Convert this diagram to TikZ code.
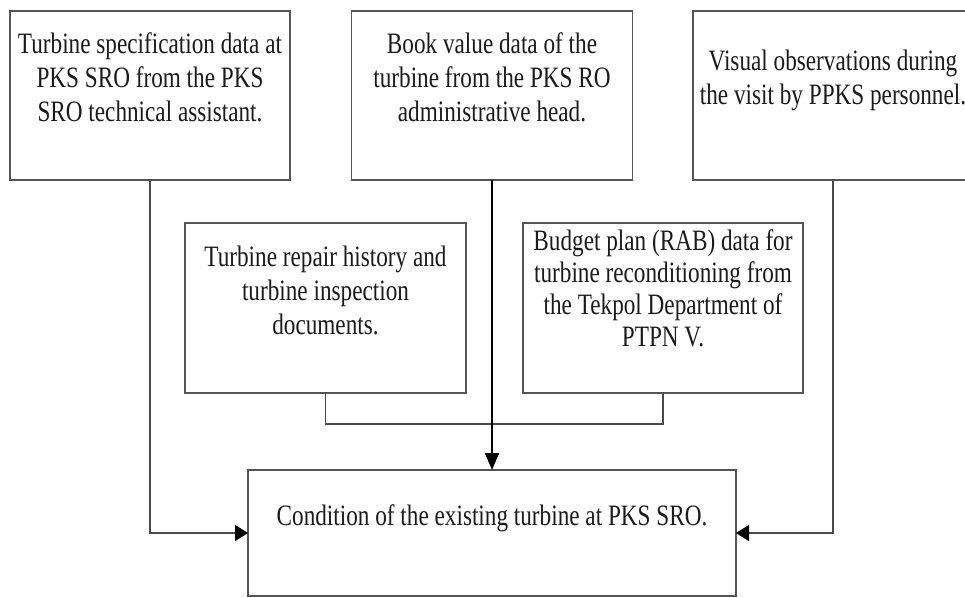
\documentclass[tikz,border=0pt]{standalone}
\usepackage{fontspec}
\setmainfont{Liberation Serif}[FakeStretch=0.784]
\usetikzlibrary{arrows.meta}

\definecolor{edge}{HTML}{555555}
\definecolor{wire}{HTML}{4A4A4A}
\definecolor{ink}{HTML}{1A1A1A}

% centred lines of text whose reference point is the first baseline
\newcommand\stacklines[1]{\parbox[t]{330pt}{\centering #1}}

\begin{document}
\begin{tikzpicture}[x=1pt,y=-1pt,
  box/.style={draw=edge, line width=1.6pt, rectangle, inner sep=0pt, outer sep=0pt},
  txt/.style={anchor=base, inner sep=0pt, text=ink, font=\fontsize{29.6}{34}\selectfont},
  tighttxt/.style={txt, font=\fontsize{29.6}{32.2}\selectfont},
  wireline/.style={draw=wire, line width=1.6pt},
  feed/.style={wireline, -{Triangle[length=13pt,width=16pt,color=black]}},
  mainfeed/.style={draw=black, line width=2pt, -{Triangle[length=17pt,width=14pt]}}
]
\useasboundingbox (0,0) rectangle (965,597);
\clip (0,0) rectangle (965,597);

% source boxes, top row
\node[box, minimum width=280pt, minimum height=169pt] (spec) at (150,95.5) {};
\node[box, minimum width=281pt, minimum height=169pt] (book) at (492,95.5) {};
\node[box, minimum width=280pt, minimum height=169pt] (visual) at (833,95.5) {};

% source boxes, middle row
\node[box, minimum width=281pt, minimum height=170pt] (repair) at (325.5,308) {};
\node[box, minimum width=280pt, minimum height=170pt] (budget) at (663,308) {};

% resulting condition
\node[box, minimum width=488pt, minimum height=126pt] (cond) at (492,533) {};

% texts
\node[txt] (specT) at (150,53) {\stacklines{Turbine specification data at\\PKS SRO from the PKS\\SRO technical assistant.}};
\node[txt] (bookT) at (492,53) {\stacklines{Book value data of the\\turbine from the PKS RO\\administrative head.}};
\node[txt] (visualT) at (833,70) {\stacklines{Visual observations during\\the visit by PPKS personnel.}};
\node[txt] (repairT) at (325.5,266) {\stacklines{Turbine repair history and\\turbine inspection\\documents.}};
\node[tighttxt] (budgetT) at (663,250) {\stacklines{Budget plan (RAB) data for\\turbine reconditioning from\\the Tekpol Department of\\PTPN V.}};
\node[txt] (condT) at (492,525) {Condition of the existing turbine at PKS SRO.};

% connectors
\coordinate (join) at (492,424);
\path[wireline] (repair.south) -- (repair.south |- join) -- (budget.south |- join) -- (budget.south);
\path[feed] (spec.south) |- (cond.west);
\path[feed] (visual.south) |- (cond.east);
\path[mainfeed] (book.south) -- (cond.north);
\end{tikzpicture}
\end{document}
